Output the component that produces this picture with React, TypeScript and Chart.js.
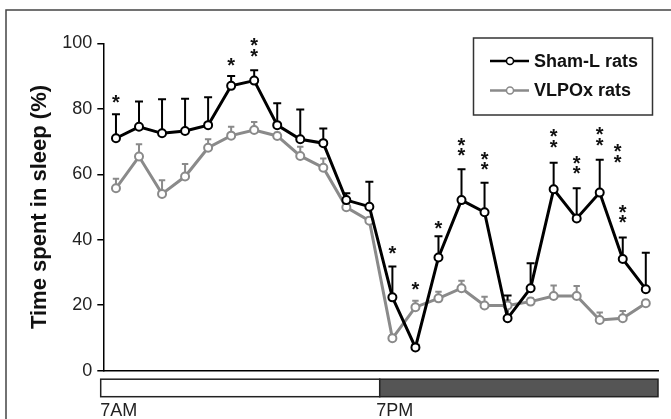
import { useEffect, useRef } from "react";
import { Chart, registerables } from "chart.js";

Chart.register(...registerables);

// hour bins from 7AM (index 0) to 6AM next day (index 23)
const hourIndex = [0, 1, 2, 3, 4, 5, 6, 7, 8, 9, 10, 11, 12, 13, 14, 15, 16, 17, 18, 19, 20, 21, 22, 23];

const shamMean = [71.0, 74.5, 72.5, 73.2, 75.0, 87.0, 88.6, 75.0, 70.7, 69.5, 52.1, 50.1, 22.4, 7.1, 34.6, 52.1, 48.4, 16.0, 25.2, 55.4, 46.5, 54.4, 34.1, 24.9];
const shamSem = [7.3, 7.7, 10.4, 9.9, 8.5, 3.0, 3.2, 6.7, 9.1, 4.5, 2.1, 7.6, 9.4, 0.8, 6.5, 9.4, 9.0, 7.0, 7.6, 8.1, 9.2, 10.0, 6.6, 11.1];

const vlpoxMean = [55.7, 65.4, 54.0, 59.3, 68.1, 71.8, 73.5, 71.7, 65.6, 62.0, 49.9, 45.8, 9.9, 19.4, 22.1, 25.2, 19.9, 19.9, 21.1, 22.8, 22.8, 15.5, 16.0, 20.6];
const vlpoxSem = [2.9, 3.8, 4.2, 3.8, 2.6, 2.7, 2.5, 1.0, 2.8, 2.8, 1.0, 1.0, 1.0, 2.0, 2.0, 2.3, 2.7, 1.6, 1.0, 3.2, 3.1, 2.3, 2.2, 1.0];

// significance asterisks: hour position and height (in % units)
const starX = [0, 5, 6, 6, 12, 13, 14, 15, 15, 16, 16, 19, 19, 20, 20, 21, 21, 21.78, 21.78, 22, 22];
const starY = [82.9, 94.2, 100.4, 96.9, 36.9, 25.9, 44.5, 69.9, 66.9, 65.6, 62.5, 72.5, 69.2, 64.4, 61.3, 73.2, 69.9, 67.9, 64.6, 49.3, 46.2];

const yTicks = [0, 20, 40, 60, 80, 100];
const seriesNames = ["Sham-L rats", "VLPOx rats"];
const phaseLabels = ["7AM", "7PM"];
const lightsOffAt = 11.45;

const FONT = "'Liberation Sans', Arial, sans-serif";
const BLACK = "#000000";
const GRAY = "#8a8a8a";

const decorPlugin = {
  id: "decor",
  beforeDraw(chart: any) {
    const ctx = chart.ctx;
    ctx.save();
    ctx.strokeStyle = "#444";
    ctx.lineWidth = 1.5;
    ctx.beginPath();
    ctx.moveTo(6, chart.height);
    ctx.lineTo(6, 10);
    ctx.lineTo(chart.width, 10);
    ctx.stroke();
    ctx.restore();
  },
  beforeDatasetsDraw(chart: any) {
    const ctx = chart.ctx;
    const xs = chart.scales.x;
    const ys = chart.scales.y;
    const sets = [
      { mean: shamMean, sem: shamSem, color: BLACK, cap: 4 },
      { mean: vlpoxMean, sem: vlpoxSem, color: GRAY, cap: 3.2 },
    ];
    ctx.save();
    ctx.lineWidth = 2;
    for (let s = sets.length - 1; s >= 0; s--) {
      const set = sets[s];
      ctx.strokeStyle = set.color;
      hourIndex.forEach((h, i) => {
        const px = xs.getPixelForValue(h);
        const py0 = ys.getPixelForValue(set.mean[i]);
        const py1 = ys.getPixelForValue(set.mean[i] + set.sem[i]);
        ctx.beginPath();
        ctx.moveTo(px, py0);
        ctx.lineTo(px, py1);
        ctx.moveTo(px - set.cap, py1);
        ctx.lineTo(px + set.cap, py1);
        ctx.stroke();
      });
    }
    ctx.restore();
  },
  afterDraw(chart: any) {
    const ctx = chart.ctx;
    const xs = chart.scales.x;
    const ys = chart.scales.y;
    const area = chart.chartArea;
    ctx.save();

    // asterisks
    ctx.fillStyle = "#111";
    ctx.font = `bold 20px ${FONT}`;
    ctx.textAlign = "center";
    ctx.textBaseline = "alphabetic";
    const m = ctx.measureText("*");
    const off = (m.actualBoundingBoxDescent - m.actualBoundingBoxAscent) / 2;
    starX.forEach((sx, i) => {
      const px = xs.getPixelForValue(sx);
      const py = ys.getPixelForValue(starY[i]);
      ctx.fillText("*", px, py - off);
    });

    // light/dark phase bar
    const barTop = area.bottom + 8.5;
    const barH = 17.5;
    const left = area.left - 2.6;
    const split = xs.getPixelForValue(lightsOffAt);
    const right = area.right;
    ctx.lineWidth = 1.5;
    ctx.strokeStyle = "#222";
    ctx.fillStyle = "#ffffff";
    ctx.fillRect(left, barTop, split - left, barH);
    ctx.strokeRect(left, barTop, split - left, barH);
    ctx.fillStyle = "#555555";
    ctx.fillRect(split, barTop, right - split, barH);
    ctx.strokeRect(split, barTop, right - split, barH);

    ctx.fillStyle = "#222";
    ctx.font = `18px ${FONT}`;
    ctx.textAlign = "left";
    ctx.textBaseline = "alphabetic";
    ctx.fillText(phaseLabels[0], left - 0.5, barTop + barH + 19.5);
    ctx.fillText(phaseLabels[1], split - 3.5, barTop + barH + 19.5);

    // legend
    const lx = 473.5, ly = 38, lw = 179, lh = 77;
    ctx.strokeStyle = "#333";
    ctx.lineWidth = 1.5;
    ctx.fillStyle = "#fff";
    ctx.fillRect(lx, ly, lw, lh);
    ctx.strokeRect(lx, ly, lw, lh);
    const rows = [
      { name: seriesNames[0], color: BLACK, y: 61 },
      { name: seriesNames[1], color: GRAY, y: 90.5 },
    ];
    rows.forEach((r) => {
      ctx.strokeStyle = r.color;
      ctx.lineWidth = 2.5;
      ctx.beginPath();
      ctx.moveTo(490, r.y);
      ctx.lineTo(529, r.y);
      ctx.stroke();
      ctx.fillStyle = "#fff";
      ctx.lineWidth = 1.5;
      ctx.beginPath();
      ctx.arc(510, r.y, 3.5, 0, Math.PI * 2);
      ctx.fill();
      ctx.stroke();
      ctx.fillStyle = "#111";
      ctx.font = `bold 18px ${FONT}`;
      ctx.textAlign = "left";
      ctx.textBaseline = "middle";
      ctx.fillText(r.name, 534, r.y + 1);
    });
    ctx.restore();
  },
};

export default function App() {
  const ref = useRef<HTMLCanvasElement | null>(null);

  useEffect(() => {
    if (!ref.current) return;
    const chart = new Chart(ref.current, {
      type: "line",
      data: {
        datasets: [
          {
            label: seriesNames[0],
            data: hourIndex.map((h, i) => ({ x: h, y: shamMean[i] })),
            borderColor: BLACK,
            borderWidth: 3,
            pointRadius: 4,
            pointBorderWidth: 2,
            pointBackgroundColor: "#fff",
            pointBorderColor: BLACK,
            tension: 0,
          },
          {
            label: seriesNames[1],
            data: hourIndex.map((h, i) => ({ x: h, y: vlpoxMean[i] })),
            borderColor: GRAY,
            borderWidth: 3,
            pointRadius: 4,
            pointBorderWidth: 2,
            pointBackgroundColor: "#fff",
            pointBorderColor: GRAY,
            tension: 0,
          },
        ],
      },
      options: {
        animation: false,
        responsive: false,
        devicePixelRatio: 1,
        layout: { padding: { left: 0, top: 43.3, right: 13, bottom: 48.3 } },
        plugins: { legend: { display: false }, tooltip: { enabled: false } },
        scales: {
          x: {
            type: "linear",
            min: -0.55,
            max: 23.53,
            ticks: { display: false },
            grid: { display: false, drawTicks: false },
            border: { display: true, color: "#000", width: 1.5 },
            afterFit: (s: any) => {
              s.height = 0;
            },
          },
          y: {
            min: 0,
            max: 100,
            afterBuildTicks: (s: any) => {
              s.ticks = yTicks.map((v) => ({ value: v }));
            },
            ticks: {
              color: "#222",
              padding: 5,
              font: { family: FONT, size: 18 },
            },
            grid: { display: true, drawOnChartArea: false, drawTicks: true, tickLength: 6, color: "#000", lineWidth: 1.5 },
            border: { display: true, color: "#000", width: 1.5 },
            title: {
              display: true,
              text: "Time spent in sleep (%)",
              color: "#111",
              font: { family: FONT, size: 22, weight: "bold" },
              padding: { top: 26.8, bottom: 0 },
            },
            afterFit: (s: any) => {
              s.width = 103.3;
            },
          },
        },
      },
      plugins: [decorPlugin],
    } as any);
    return () => chart.destroy();
  }, []);

  return (
    <div style={{ position: "fixed", left: 0, top: 0, width: 671, height: 419, background: "#fff" }}>
      <canvas ref={ref} width={671} height={419} style={{ width: 671, height: 419, display: "block" }} />
    </div>
  );
}
